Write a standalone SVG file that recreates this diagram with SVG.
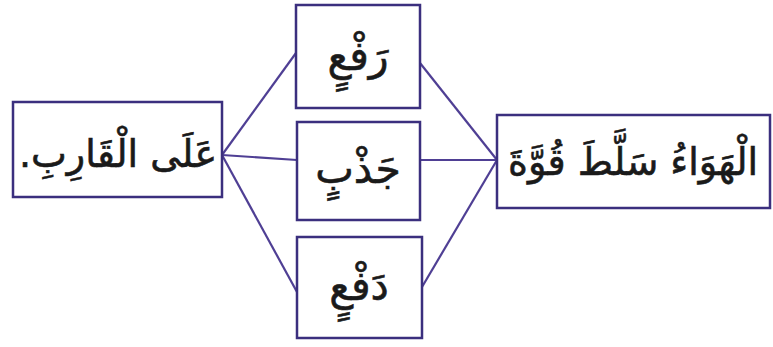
<svg xmlns="http://www.w3.org/2000/svg" width="773" height="347" viewBox="0 0 773 347">
<style>
.box{fill:#fff;stroke:#3b2f7e;stroke-width:2.5}
.t{font-family:"DejaVu Sans",sans-serif;font-size:38px;fill:#1a1a1a;stroke:#1a1a1a;stroke-width:0.6;text-anchor:middle;direction:rtl}
.m{font-size:41px}
.ln{stroke:#4f3f94;stroke-width:2.2;fill:none}
</style>
<rect width="773" height="347" fill="#fff"/>
<g id="connectors">
<line class="ln" x1="222" y1="155" x2="296" y2="53"/>
<line class="ln" x1="222" y1="155" x2="297" y2="160"/>
<line class="ln" x1="222" y1="155" x2="297" y2="292"/>
<line class="ln" x1="497" y1="160" x2="420" y2="63"/>
<line class="ln" x1="497" y1="160" x2="420" y2="160"/>
<line class="ln" x1="497" y1="160" x2="422" y2="287"/>
</g>
<g id="node-left">
<rect class="box" x="13" y="102" width="209" height="95"/>
<text class="t" x="118" y="167">عَلَى الْقَارِبِ.</text>
</g>
<g id="node-raf">
<rect class="box" x="296" y="5" width="124" height="103"/>
<text class="t m" x="358" y="70">رَفْعٍ</text>
</g>
<g id="node-jadhb">
<rect class="box" x="297" y="122" width="123" height="98"/>
<text class="t m" x="358" y="183">جَذْبٍ</text>
</g>
<g id="node-daf">
<rect class="box" x="297" y="237" width="125" height="101"/>
<text class="t m" x="359" y="300">دَفْعٍ</text>
</g>
<g id="node-right">
<rect class="box" x="497" y="115" width="273" height="93"/>
<text class="t" x="633" y="175">الْهَوَاءُ سَلَّطَ قُوَّةَ</text>
</g>
</svg>
